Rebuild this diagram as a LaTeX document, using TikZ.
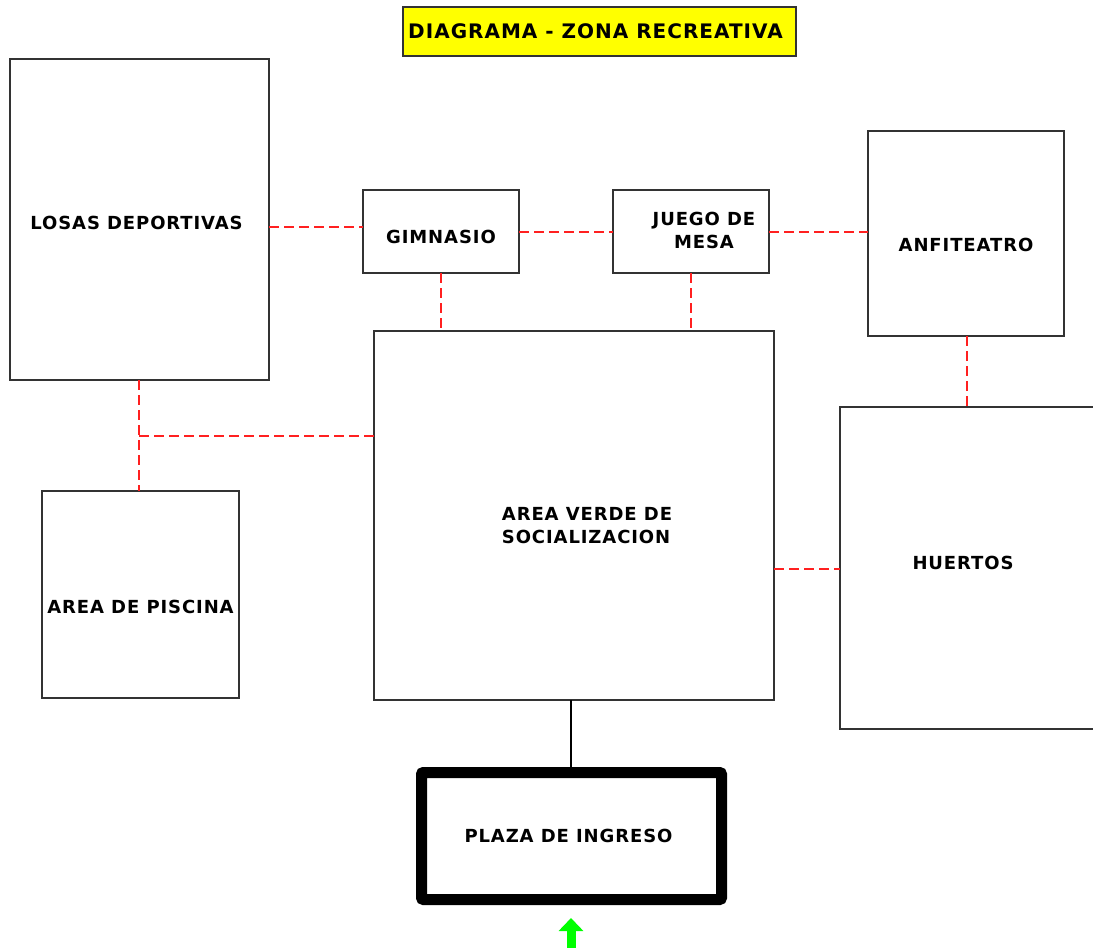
\documentclass[tikz,border=0pt]{standalone}
\usepackage{fontspec}
\setmainfont{DejaVu Sans}[LetterSpace=5]
\usetikzlibrary{arrows.meta}
\definecolor{edge}{HTML}{333333}
\definecolor{link}{HTML}{FF2020}
\definecolor{titlebg}{HTML}{FFFF00}
\definecolor{entry}{HTML}{00FF00}
\tikzset{
  room/.style={draw=edge, line width=2pt, fill=white, inner sep=0pt, outer sep=0pt, anchor=north west},
  lbl/.style={font=\bfseries\fontsize{18}{22.5}\selectfont, align=center, inner sep=0pt},
  link/.style={draw=link, line width=1.6pt, dash pattern=on 10pt off 5pt},
  solidlink/.style={draw=black, line width=1.6pt},
}
\begin{document}
\begin{tikzpicture}[x=1pt, y=-1pt]
\useasboundingbox (0,0) rectangle (1093,948);

% title banner
\node[room, fill=titlebg, minimum width=393pt, minimum height=49pt,
  label={[lbl, font=\bfseries\fontsize{20}{22}\selectfont, xshift=-4pt]center:DIAGRAMA - ZONA RECREATIVA}] (title) at (403,7) {};

% rooms
\node[room, minimum width=259pt, minimum height=321pt,
  label={[lbl, xshift=-3pt, yshift=-3pt]center:LOSAS DEPORTIVAS}] (losas) at (10,59) {};
\node[room, minimum width=156pt, minimum height=83pt,
  label={[lbl, yshift=-5pt]center:GIMNASIO}] (gim) at (363,190) {};
\node[room, minimum width=156pt, minimum height=83pt,
  label={[lbl, xshift=13pt, yshift=1pt]center:JUEGO DE\\MESA}] (juego) at (613,190) {};
\node[room, minimum width=196pt, minimum height=205pt,
  label={[lbl, yshift=-11pt]center:ANFITEATRO}] (anfi) at (868,131) {};
\node[room, minimum width=400pt, minimum height=369pt,
  label={[lbl, align=left, xshift=13pt, yshift=-10pt]center:AREA VERDE DE\\SOCIALIZACION}] (verde) at (374,331) {};
\node[room, minimum width=197pt, minimum height=207pt,
  label={[lbl, yshift=-12pt]center:AREA DE PISCINA}] (piscina) at (42,491) {};
\node[room, minimum width=260pt, minimum height=322pt,
  label={[lbl, xshift=-7pt, yshift=5pt]center:HUERTOS}] (huertos) at (840,407) {};
\node[room, draw=black, line width=11pt, minimum width=300pt, minimum height=127pt,
  rounded corners=2pt, label={[lbl, xshift=-3pt]center:PLAZA DE INGRESO}] (plaza) at (421.5,772.5) {};

% red dashed links between rooms
\draw[link] (losas.east |- 0,227) -- (gim.west |- 0,227);
\draw[link] (gim.east |- 0,232) -- (juego.west |- 0,232);
\draw[link] (juego.east |- 0,232) -- (anfi.west |- 0,232);
\draw[link] (gim.south |- 0,273) -- (gim.south |- verde.north);
\draw[link] (juego.south) -- (juego.south |- verde.north);
\draw[link] (anfi.south -| 967,0) -- (967,0 |- huertos.north);
\coordinate (split) at (139,436);
\draw[link] (losas.south -| split) -- (split) -- (split |- piscina.north);
\draw[link] (split) -- (split -| verde.west);
\draw[link] (verde.east |- 0,569) -- (huertos.west |- 0,569);

% access from the plaza to the green area
\draw[solidlink] (verde.south -| 571,0) -- (571,767);

% entrance arrow
\coordinate (entryfoot) at (571,950);
\coordinate (entrytip) at (571,918);
\draw[draw=entry, line width=9pt, -{Triangle[width=24pt, length=13pt, fill=entry]}] (entryfoot) -- (entrytip);
\end{tikzpicture}
\end{document}
